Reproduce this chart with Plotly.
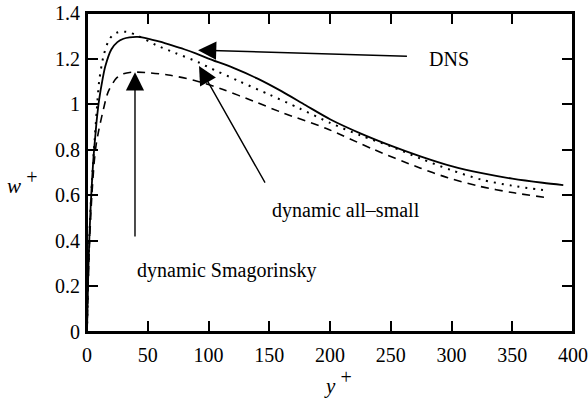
import plotly.graph_objects as go

# DNS (solid)
dns_x = [0, 1, 2, 3, 4, 5, 6, 7, 8, 10, 12.5, 15, 20, 25, 30, 35, 42, 50, 60, 70, 80, 90, 100, 120, 140, 160, 180, 200, 225, 250, 275, 300, 325, 350, 375, 392]
dns_y = [0, 0.25, 0.42, 0.55, 0.65, 0.74, 0.81, 0.87, 0.93, 1.02, 1.10, 1.165, 1.24, 1.272, 1.287, 1.293, 1.295, 1.288, 1.274, 1.258, 1.241, 1.222, 1.20, 1.160, 1.113, 1.057, 0.995, 0.934, 0.872, 0.818, 0.770, 0.728, 0.697, 0.673, 0.655, 0.645]

# dynamic all-small (dotted)
alls_x = [0, 1, 2, 3, 4, 5, 6, 8, 10, 13.4, 17.5, 21, 25.8, 32.6, 42, 57, 72.4, 91.6, 100, 125, 150, 175, 200, 225, 250, 275, 300, 325, 350, 380]
alls_y = [0, 0.25, 0.42, 0.55, 0.65, 0.74, 0.82, 0.97, 1.10, 1.207, 1.275, 1.302, 1.316, 1.317, 1.30, 1.259, 1.225, 1.184, 1.162, 1.101, 1.042, 0.981, 0.918, 0.863, 0.815, 0.760, 0.710, 0.668, 0.642, 0.62]

# dynamic Smagorinsky (dashed)
smag_x = [0, 1, 2, 3, 4, 5, 6, 7.5, 9.3, 13.4, 17.5, 24.4, 30, 36.8, 47.7, 66.9, 90, 112, 137, 161.6, 197, 235.6, 274, 297, 323.5, 350, 378]
smag_y = [0, 0.22, 0.38, 0.50, 0.60, 0.68, 0.75, 0.82, 0.875, 0.975, 1.055, 1.115, 1.133, 1.14, 1.139, 1.128, 1.102, 1.064, 1.013, 0.961, 0.893, 0.802, 0.72, 0.677, 0.639, 0.612, 0.59]

FONT = "Liberation Serif"
X_RANGE = [0, 400]
Y_RANGE = [0, 1.4]

fig = go.Figure()
fig.add_trace(go.Scatter(x=dns_x, y=dns_y, mode="lines", line=dict(color="black", width=1.8, shape="spline", smoothing=0.8), showlegend=False))
fig.add_trace(go.Scatter(x=alls_x, y=alls_y, mode="lines", line=dict(color="black", width=2, dash="2px,6px", shape="spline", smoothing=0.8), showlegend=False))
fig.add_trace(go.Scatter(x=smag_x, y=smag_y, mode="lines", line=dict(color="black", width=1.6, dash="8px,6px", shape="spline", smoothing=0.8), showlegend=False))
# empty trace carrying the overlay axes used for tick labels
fig.add_trace(go.Scatter(x=[None], y=[None], xaxis="x2", yaxis="y2", mode="lines", showlegend=False, hoverinfo="skip"))

arrows = [
    dict(x=91.4, y=1.237, ax=265.8, ay=1.21),
    dict(x=92.2, y=1.167, ax=149, ay=0.632),
    dict(x=39.5, y=1.14, ax=39.5, ay=0.382),
]
for a in arrows:
    fig.add_annotation(x=a["x"], y=a["y"], ax=a["ax"], ay=a["ay"], xref="x", yref="y", axref="x", ayref="y",
                       text=" ", showarrow=True, arrowhead=2, arrowsize=2.6, arrowwidth=1.4, arrowcolor="black", standoff=0)

labels = [
    dict(x=279.8, y=1.20, text="DNS"),
    dict(x=150.6, y=0.535, text="dynamic all\u2013small"),
    dict(x=39.5, y=0.272, text="dynamic Smagorinsky"),
]
for l in labels:
    fig.add_annotation(x=l["x"], y=l["y"], xref="x", yref="y", text=l["text"], showarrow=False,
                       xanchor="left", yanchor="middle", font=dict(family=FONT, size=20, color="black"))

fig.add_annotation(x=(22 - 87) / 486, y=(332 - 182) / 319, xref="paper", yref="paper",
                   text="<i>w</i> <sup><span style='font-size:20px'>+</span></sup>", showarrow=False,
                   xanchor="center", yanchor="middle", font=dict(family=FONT, size=21, color="black"))
fig.add_annotation(x=(338 - 87) / 486, y=(332 - 382) / 319, xref="paper", yref="paper",
                   text="<i>y</i> <sup><span style='font-size:20px'>+</span></sup>", showarrow=False,
                   xanchor="center", yanchor="middle", font=dict(family=FONT, size=21, color="black"))

# frame
fig.add_shape(type="rect", xref="paper", yref="paper", x0=0, y0=0, x1=1, y1=1,
              line=dict(color="black", width=2), layer="above")

tick_axis = dict(showline=True, linewidth=2, linecolor="black", mirror="ticks", ticks="inside", ticklen=11,
                 tickwidth=1.5, tickcolor="black", showgrid=False, zeroline=False, showticklabels=False)
label_axis = dict(showline=False, ticks="", showgrid=False, zeroline=False, showticklabels=True,
                  tickfont=dict(family=FONT, size=20, color="black"))

fig.update_layout(
    xaxis=dict(range=X_RANGE, dtick=50, tick0=0, **tick_axis),
    yaxis=dict(range=Y_RANGE, dtick=0.2, tick0=0, **tick_axis),
    xaxis2=dict(range=X_RANGE, dtick=50, tick0=0, overlaying="x", side="bottom", anchor="y2", ticklabelstandoff=9, **label_axis),
    yaxis2=dict(range=Y_RANGE, dtick=0.2, tick0=0, overlaying="y", side="left", anchor="x2", ticklabelstandoff=6, **label_axis),
    width=588, height=400, margin=dict(l=87, r=15, t=13, b=68, autoexpand=False),
    plot_bgcolor="white", paper_bgcolor="white", font=dict(family=FONT, color="black"),
)

fig.write_html("out.html", config={"displayModeBar": False},
               post_script="document.body.style.margin='0px';document.body.style.overflow='hidden';")
